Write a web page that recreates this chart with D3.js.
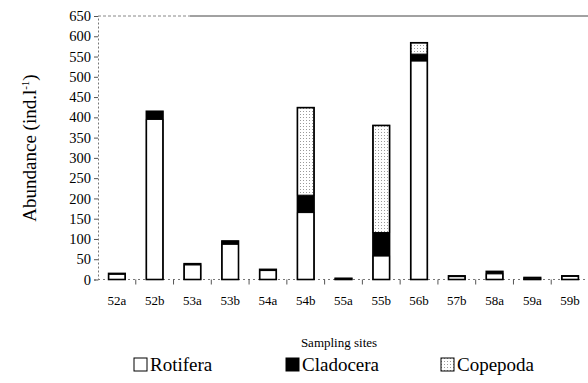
<!DOCTYPE html>
<html><head><meta charset="utf-8">
<script src="https://cdn.jsdelivr.net/npm/d3@7"></script>
<style>
body{margin:0;background:#fff}
svg, svg text, svg tspan { font-family: "Liberation Serif", "Times New Roman", Tinos, FreeSerif !important; }
</style>
</head><body><svg id="c" width="588" height="383"></svg>
<script>
const sites = ["52a","52b","53a","53b","54a","54b","55a","55b","56b","57b","58a","59a","59b"];
const rotifera  = [13,395,36,87,22,165,2,58,539,7,14,3,8];
const cladocera = [2,20,3,8,3,43,1,58,17,2,6,2,1];
const copepoda  = [0,0,0,0,0,216,0,264,28,0,0,0,0];
const yTicks = [0,50,100,150,200,250,300,350,400,450,500,550,600,650];
const seriesNames = ["Rotifera","Cladocera","Copepoda"];
const FONT = '"Liberation Serif", "Times New Roman", Tinos, FreeSerif';

const svg = d3.select("#c").style("font-family", FONT);
const defs = svg.append("defs");
const pat = defs.append("pattern").attr("id","dots").attr("patternUnits","userSpaceOnUse").attr("width",3).attr("height",3);
pat.append("rect").attr("width",3).attr("height",3).attr("fill","#fff");
pat.append("rect").attr("width",1).attr("height",1).attr("fill","#9a9a9a");
const fills = ["#fff","#000","url(#dots)"];

const x = d3.scaleBand().domain(sites).range([98,589]).paddingInner(0.56).paddingOuter(0.28);
const y = d3.scaleLinear().domain([0,650]).range([279.5,16]);

svg.append("line").attr("x1",98).attr("x2",190).attr("y1",16).attr("y2",16).attr("stroke","#888").attr("stroke-dasharray","3,2");
svg.append("line").attr("x1",190).attr("x2",588).attr("y1",16).attr("y2",16).attr("stroke","#444").attr("stroke-width",1);

const ya = svg.append("g").attr("transform","translate(98,0)").call(d3.axisLeft(y).tickValues(yTicks).tickSize(4).tickPadding(3));
ya.attr("font-family", null).attr("font-size", null);
ya.select(".domain").attr("stroke","#777").attr("stroke-dasharray","2,2");
ya.selectAll(".tick line").attr("stroke","#555");
ya.selectAll(".tick text").style("font-family",FONT).style("font-size","14.5px").attr("fill","#000");

const xb = d3.scaleLinear().domain([0,13]).range([98,589]);
const xa = svg.append("g").attr("transform","translate(0,279.5)");
xa.append("line").attr("x1",98).attr("x2",588).attr("stroke","#777").attr("stroke-dasharray","2,3");
xa.selectAll("line.t").data(d3.range(1,13)).join("line").attr("class","t")
  .attr("x1",d=>xb(d)).attr("x2",d=>xb(d)).attr("y1",0).attr("y2",5).attr("stroke","#555");
xa.selectAll("text").data(sites).join("text").attr("x",d=>x(d)+x.bandwidth()/2).attr("y",25)
  .attr("text-anchor","middle").style("font-family",FONT).style("font-size","13px").text(d=>d);

const data = sites.map((s,i)=>({site:s,Rotifera:rotifera[i],Cladocera:cladocera[i],Copepoda:copepoda[i]}));
const stack = d3.stack().keys(seriesNames)(data);
stack.forEach((layer,k)=>{
  svg.append("g").selectAll("rect").data(layer.filter(d=>d[1]>d[0])).join("rect")
    .attr("x",d=>x(d.data.site)).attr("width",x.bandwidth())
    .attr("y",d=>y(d[1])).attr("height",d=>y(d[0])-y(d[1]))
    .attr("fill",fills[k]).attr("stroke","#000").attr("stroke-width",k===1?0.5:1);
});
svg.append("g").selectAll("rect").data(data).join("rect")
  .attr("x",d=>x(d.site)).attr("width",x.bandwidth())
  .attr("y",d=>y(d.Rotifera+d.Cladocera+d.Copepoda)).attr("height",d=>y(0)-y(d.Rotifera+d.Cladocera+d.Copepoda))
  .attr("fill","none").attr("stroke","#000").attr("stroke-width",1.6);

svg.append("text").attr("x",339).attr("y",347).attr("text-anchor","middle").style("font-family",FONT).style("font-size","13px").text("Sampling sites");
const yl = svg.append("text").attr("transform","translate(36,148) rotate(-90)").attr("text-anchor","middle").style("font-family",FONT).style("font-size","19px");
yl.append("tspan").text("Abundance (ind.l");
yl.append("tspan").attr("dy",-7).style("font-size","11px").text("-1");
yl.append("tspan").attr("dy",7).text(")");

const legX = [134,286,441];
const lg = svg.append("g").selectAll("g").data(seriesNames).join("g").attr("transform",(d,i)=>`translate(${legX[i]},358)`);
lg.append("rect").attr("width",13).attr("height",13).attr("fill",(d,i)=>fills[i]).attr("stroke","#000").attr("stroke-width",1);
lg.append("text").attr("x",16).attr("y",12.5).style("font-family",FONT).style("font-size","19px").text(d=>d);
</script></body></html>
